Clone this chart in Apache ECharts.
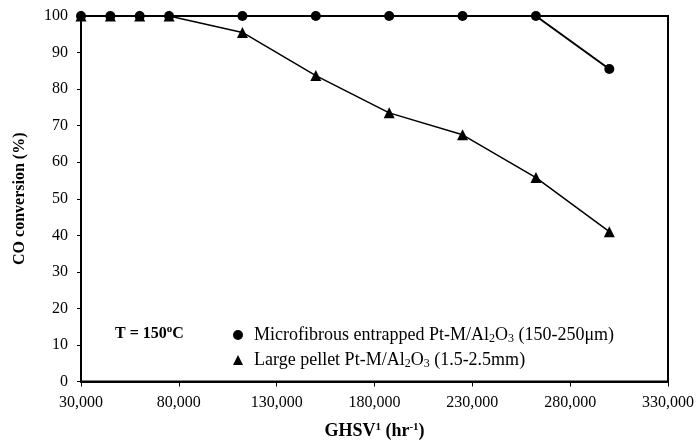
<!DOCTYPE html>
<html>
<head>
<meta charset="utf-8">
<script src="https://cdn.jsdelivr.net/npm/echarts@6/dist/echarts.min.js"></script>
<style>
  html, body { margin: 0; padding: 0; background: #fff; }
  #chart { width: 697px; height: 445px; }
</style>
</head>
<body>
<div id="chart"></div>
<script>
const ghsv = [30000, 45000, 60000, 75000, 112500, 150000, 187500, 225000, 262500, 300000];
const microfibrous = [100, 100, 100, 100, 100, 100, 100, 100, 100, 85.5];
const largePellet = [100, 100, 100, 100, 95.5, 83.7, 73.5, 67.5, 55.8, 41];
const xTicks = [30000, 80000, 130000, 180000, 230000, 280000, 330000];

const nameMicro = 'Microfibrous entrapped Pt-M/Al2O3 (150-250μm)';
const namePellet = 'Large pellet Pt-M/Al2O3 (1.5-2.5mm)';

const font = '"Liberation Serif", "Times New Roman", serif';
const subRich = {
  sub: { fontFamily: font, fontSize: 12, color: '#000', padding: [8, 0, 0, 0] },
  supb: { fontFamily: font, fontSize: 11, fontWeight: 'bold', color: '#000', padding: [0, 0, 8, 0] }
};

const chart = echarts.init(document.getElementById('chart'));

chart.setOption({
  animation: false,
  textStyle: { fontFamily: font, color: '#000' },
  grid: {
    left: 81, right: 28, top: 16, bottom: 63,
    show: true, borderColor: '#000', borderWidth: 2
  },
  legend: {
    orient: 'vertical',
    left: 228,
    top: 321,
    itemWidth: 10,
    itemHeight: 10,
    itemGap: 6,
    data: [
      { name: nameMicro, icon: 'circle' },
      { name: namePellet, icon: 'triangle' }
    ],
    formatter: function (n) {
      return n.replace('Al2O3', 'Al{sub|2}O{sub|3}');
    },
    textStyle: {
      fontFamily: font, fontSize: 18, color: '#000',
      padding: [0, 0, 0, 6],
      rich: subRich
    }
  },
  graphic: [{
    type: 'text',
    left: 115,
    top: 324,
    style: {
      text: 'T = 150{supb|o}C',
      font: 'bold 16px ' + font,
      fill: '#000',
      rich: subRich
    }
  }],
  xAxis: {
    type: 'value',
    min: 30000,
    max: 330000,
    name: 'GHSV{supb|1} (hr{supb|-1})',
    nameLocation: 'middle',
    nameGap: 40,
    nameTextStyle: { fontFamily: font, fontSize: 18, fontWeight: 'bold', color: '#000', rich: subRich },
    axisLine: { lineStyle: { color: '#000', width: 2 } },
    axisTick: { show: true, length: 5, lineStyle: { color: '#000', width: 1 }, customValues: xTicks },
    axisLabel: {
      fontFamily: font, fontSize: 16, color: '#000', margin: 13,
      customValues: xTicks,
      formatter: function (v) { return v.toLocaleString('en-US'); }
    },
    splitLine: { show: false }
  },
  yAxis: {
    type: 'value',
    min: 0,
    max: 100,
    interval: 10,
    name: 'CO conversion (%)',
    nameLocation: 'middle',
    nameGap: 53,
    nameTextStyle: { fontFamily: font, fontSize: 16, fontWeight: 'bold', color: '#000' },
    axisLine: { show: true, lineStyle: { color: '#000', width: 2 } },
    axisTick: { show: true, length: 4, lineStyle: { color: '#000', width: 1 } },
    axisLabel: { fontFamily: font, fontSize: 16, color: '#000', margin: 13 },
    splitLine: { show: false }
  },
  series: [
    {
      name: namePellet,
      type: 'line',
      data: ghsv.map((x, i) => [x, largePellet[i]]),
      symbol: 'triangle',
      symbolSize: 11,
      lineStyle: { color: '#000', width: 1.5 },
      itemStyle: { color: '#000' },
      z: 2
    },
    {
      name: nameMicro,
      type: 'line',
      data: ghsv.map((x, i) => [x, microfibrous[i]]),
      symbol: 'circle',
      symbolSize: 10,
      lineStyle: { color: '#000', width: 2 },
      itemStyle: { color: '#000' },
      z: 3
    }
  ]
});
</script>
</body>
</html>
